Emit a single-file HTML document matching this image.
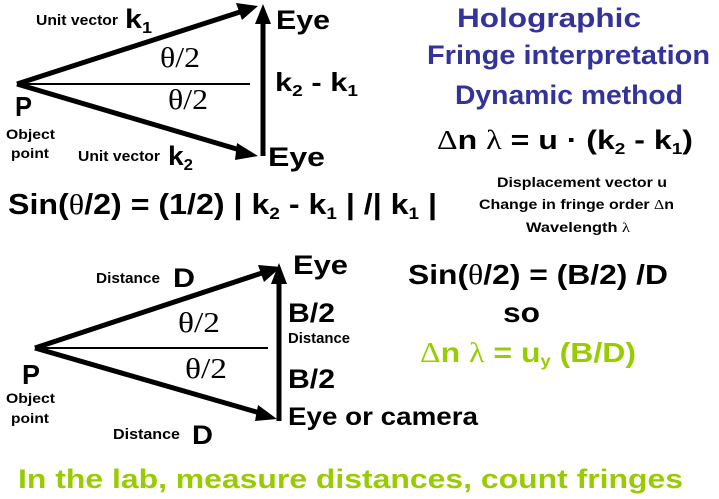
<!DOCTYPE html>
<html><head><style>html,body{margin:0;padding:0;background:#fff}svg{display:block}
.b{font-family:"Liberation Sans",sans-serif;font-weight:bold}
.s{font-family:"Liberation Serif",serif;font-weight:normal}</style></head>
<body>
<svg width="719" height="499" viewBox="0 0 719 499" xmlns="http://www.w3.org/2000/svg">
<g stroke="#000" fill="none">
<line x1="17" y1="84" x2="240" y2="12" stroke-width="5"/>
<line x1="17" y1="84" x2="240" y2="150" stroke-width="5"/>
<line x1="17" y1="84" x2="250" y2="84" stroke-width="2"/>
<line x1="263" y1="156" x2="263" y2="22" stroke-width="5"/>
<line x1="35" y1="348" x2="262" y2="273" stroke-width="5"/>
<line x1="35" y1="348" x2="260" y2="413" stroke-width="5"/>
<line x1="35" y1="348" x2="268" y2="348" stroke-width="2"/>
<line x1="279" y1="421" x2="279" y2="282" stroke-width="5"/>
</g>
<g fill="#000">
<polygon points="258,6 236,3 242,20"/>
<polygon points="258,156 237,143 235,160"/>
<polygon points="263,4 255,24 271,24"/>
<polygon points="281,267 258,265 264,282"/>
<polygon points="277,419 258,405 255,421"/>
<polygon points="279,263 271,284 287,284"/>
</g>
<g class="b" fill="#000" lengthAdjust="spacingAndGlyphs">
<text x="36" y="25" font-size="15" textLength="82" lengthAdjust="spacingAndGlyphs">Unit vector</text>
<text x="125" y="28" font-size="27" textLength="27" lengthAdjust="spacingAndGlyphs">k<tspan font-size="16" dy="5">1</tspan></text>
<text x="276" y="29" font-size="27" textLength="54" lengthAdjust="spacingAndGlyphs">Eye</text>
<text x="275" y="91" font-size="26" textLength="83" lengthAdjust="spacingAndGlyphs">k<tspan font-size="16" dy="5">2</tspan><tspan dy="-5"> - k</tspan><tspan font-size="16" dy="5">1</tspan></text>
<text x="15" y="116" font-size="28" textLength="17" lengthAdjust="spacingAndGlyphs">P</text>
<text x="6" y="139" font-size="14" textLength="49" lengthAdjust="spacingAndGlyphs">Object</text>
<text x="11" y="158" font-size="14" textLength="38" lengthAdjust="spacingAndGlyphs">point</text>
<text x="78" y="161" font-size="15" textLength="82" lengthAdjust="spacingAndGlyphs">Unit vector</text>
<text x="168" y="165" font-size="27" textLength="25" lengthAdjust="spacingAndGlyphs">k<tspan font-size="16" dy="5">2</tspan></text>
<text x="268" y="166" font-size="27" textLength="57" lengthAdjust="spacingAndGlyphs">Eye</text>
<text x="8" y="214" font-size="29" textLength="429" lengthAdjust="spacingAndGlyphs">Sin(<tspan class="s">θ</tspan>/2) = (1/2) | k<tspan font-size="17" dy="5">2</tspan><tspan dy="-5"> - k</tspan><tspan font-size="17" dy="5">1</tspan><tspan dy="-5"> | /| k</tspan><tspan font-size="17" dy="5">1</tspan><tspan dy="-5"> |</tspan></text>
<g fill="#333399" font-size="27">
<text x="457" y="27" textLength="184" lengthAdjust="spacingAndGlyphs">Holographic</text>
<text x="427" y="64" textLength="283" lengthAdjust="spacingAndGlyphs">Fringe interpretation</text>
<text x="455" y="104" textLength="228" lengthAdjust="spacingAndGlyphs">Dynamic method</text>
</g>
<text x="437" y="149" font-size="27" textLength="256" lengthAdjust="spacingAndGlyphs"><tspan class="s">Δ</tspan>n <tspan class="s">λ</tspan> = u · (k<tspan font-size="16" dy="5">2</tspan><tspan dy="-5"> - k</tspan><tspan font-size="16" dy="5">1</tspan><tspan dy="-5">)</tspan></text>
<g font-size="13.5">
<text x="497" y="187" textLength="170" lengthAdjust="spacingAndGlyphs">Displacement vector u</text>
<text x="479" y="209" textLength="195" lengthAdjust="spacingAndGlyphs">Change in fringe order <tspan class="s">Δ</tspan>n</text>
<text x="526" y="232" textLength="104" lengthAdjust="spacingAndGlyphs">Wavelength <tspan class="s">λ</tspan></text>
</g>
<text x="96" y="283" font-size="15" textLength="64" lengthAdjust="spacingAndGlyphs">Distance</text>
<text x="173" y="287" font-size="27" textLength="22" lengthAdjust="spacingAndGlyphs">D</text>
<text x="293" y="274" font-size="27" textLength="55" lengthAdjust="spacingAndGlyphs">Eye</text>
<text x="288" y="322" font-size="27" textLength="47" lengthAdjust="spacingAndGlyphs">B/2</text>
<text x="288" y="343" font-size="15" textLength="62" lengthAdjust="spacingAndGlyphs">Distance</text>
<text x="288" y="388" font-size="27" textLength="47" lengthAdjust="spacingAndGlyphs">B/2</text>
<text x="288" y="425" font-size="25" textLength="190" lengthAdjust="spacingAndGlyphs">Eye or camera</text>
<text x="22" y="384" font-size="28" textLength="18" lengthAdjust="spacingAndGlyphs">P</text>
<text x="6" y="403" font-size="14" textLength="49" lengthAdjust="spacingAndGlyphs">Object</text>
<text x="11" y="423" font-size="14" textLength="38" lengthAdjust="spacingAndGlyphs">point</text>
<text x="113" y="439" font-size="15" textLength="67" lengthAdjust="spacingAndGlyphs">Distance</text>
<text x="192" y="444" font-size="27" textLength="21" lengthAdjust="spacingAndGlyphs">D</text>
<text x="408" y="284" font-size="28" textLength="260" lengthAdjust="spacingAndGlyphs">Sin(<tspan class="s">θ</tspan>/2) = (B/2) /D</text>
<text x="503" y="322" font-size="28" textLength="37" lengthAdjust="spacingAndGlyphs">so</text>
<text x="420" y="362" font-size="28" fill="#99cc00" textLength="216" lengthAdjust="spacingAndGlyphs"><tspan class="s">Δ</tspan>n <tspan class="s">λ</tspan> = u<tspan font-size="16" dy="4">y</tspan><tspan dy="-4"> (B/D)</tspan></text>
<text x="18" y="488" font-size="27" fill="#99cc00" textLength="665" lengthAdjust="spacingAndGlyphs">In the lab, measure distances, count fringes</text>
</g>
<g class="s" font-size="28" fill="#000">
<text x="160" y="67" textLength="40" lengthAdjust="spacingAndGlyphs">θ/2</text>
<text x="168" y="109" textLength="40" lengthAdjust="spacingAndGlyphs">θ/2</text>
<text x="178" y="332" textLength="42" lengthAdjust="spacingAndGlyphs">θ/2</text>
<text x="185" y="378" textLength="42" lengthAdjust="spacingAndGlyphs">θ/2</text>
</g>
</svg>
</body></html>
